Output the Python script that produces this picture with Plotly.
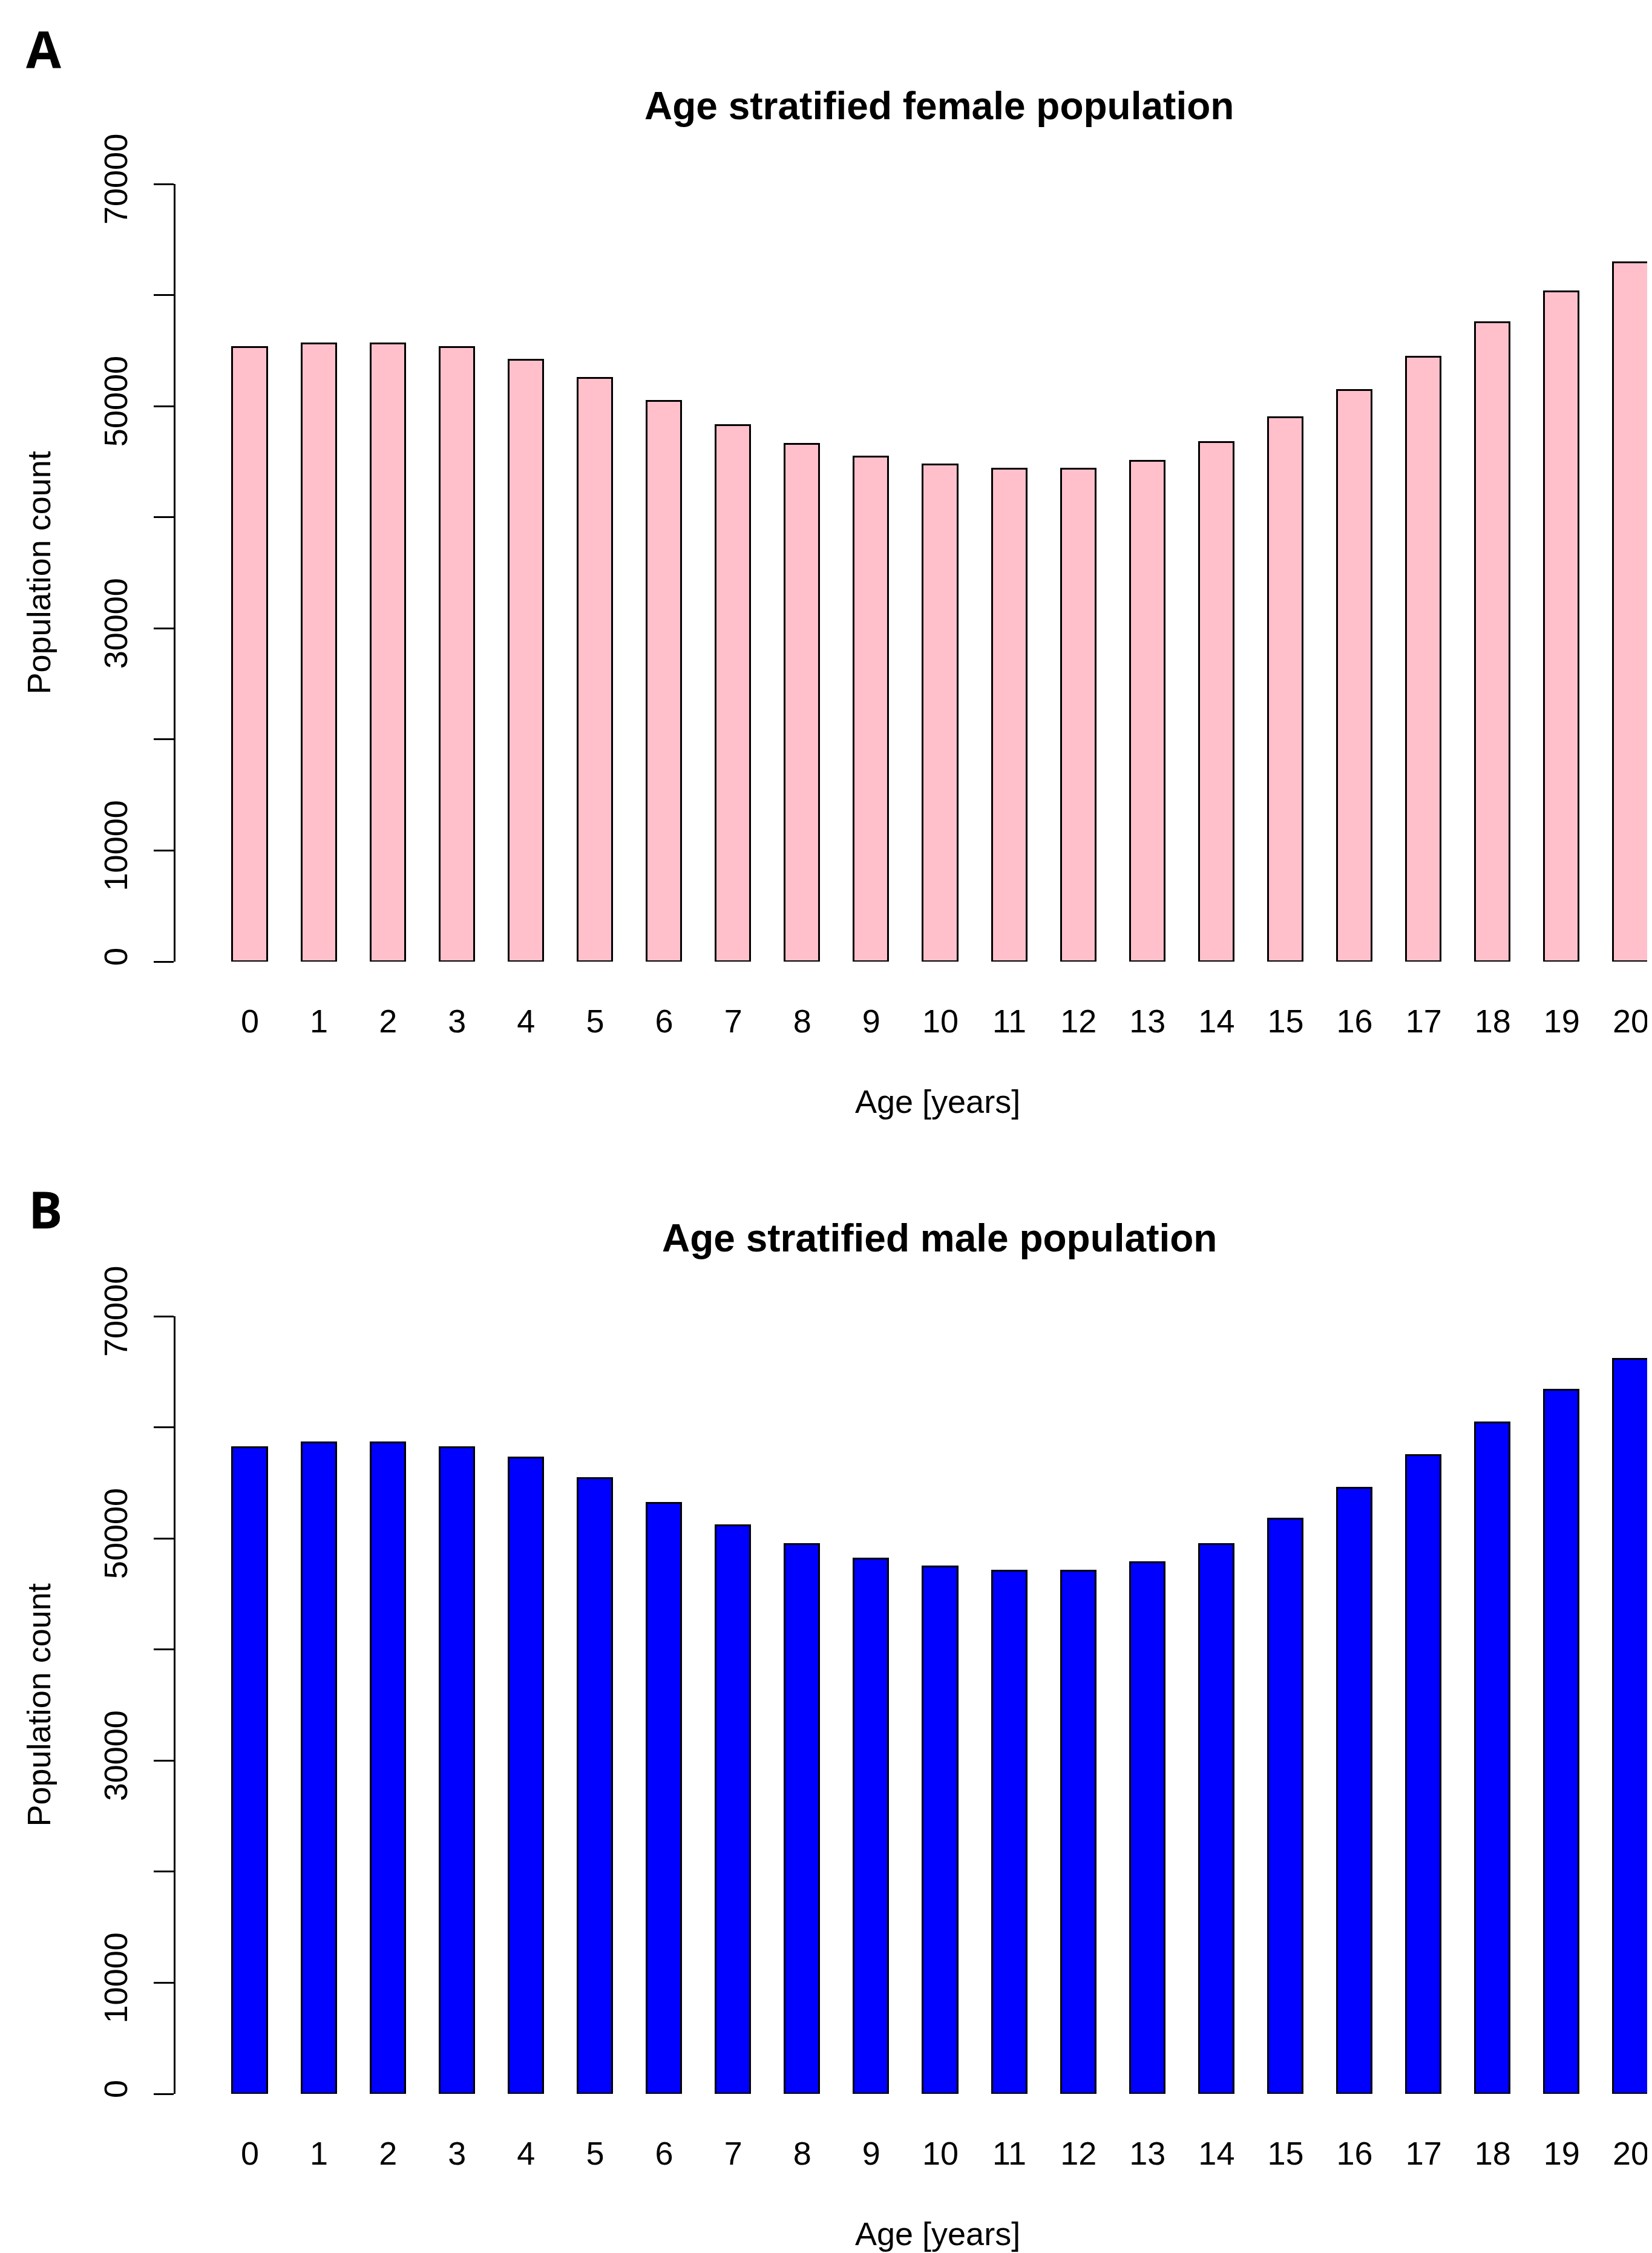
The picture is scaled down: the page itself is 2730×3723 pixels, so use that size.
import plotly.graph_objects as go

# ---- data ----
ages = list(range(21))
age_labels = [str(a) for a in ages]
female = [55300, 55600, 55600, 55300, 54150, 52500, 50450, 48250, 46600, 45450,
          44700, 44350, 44350, 45050, 46750, 49000, 51400, 54400, 57550, 60300, 62900]
male = [58200, 58600, 58600, 58200, 57250, 55400, 53150, 51150, 49450, 48150,
        47450, 47050, 47050, 47850, 49450, 51750, 54550, 57450, 60400, 63350, 66150]
y_tickvals = [0, 10000, 20000, 30000, 40000, 50000, 60000, 70000]
y_ticktext = ["0", "10000", "", "30000", "", "50000", "", "70000"]
titles = ["Age stratified female population", "Age stratified male population"]
panel_letters = ["A", "B"]
colors = ["#FFC0CB", "#0000FF"]

# page body has an 8px margin; figure is sized/positioned to compensate
OFF = 8
WIN_W, WIN_H = 2730, 3723
W, H = WIN_W - OFF, WIN_H - OFF
FONT = "Liberation Sans, Arial, sans-serif"


def px(x):
    return (x - OFF) / W


def py(y):
    return 1 - (y - OFF) / H


# panel geometry (window pixel positions)
panels = [
    dict(top=304, bottom=1589, title_y=175, xlab_y=1820, letter=(72, 80)),
    dict(top=2175, bottom=3460, title_y=2046, xlab_y=3691, letter=(75, 1997)),
]

fig = go.Figure()
series = [female, male]
for i, p in enumerate(panels):
    xa = "x" if i == 0 else "x2"
    ya = "y" if i == 0 else "y2"
    fig.add_trace(go.Bar(
        x=ages, y=series[i], width=0.5, xaxis=xa, yaxis=ya,
        marker=dict(color=colors[i], line=dict(color="black", width=3)),
        showlegend=False, hoverinfo="x+y",
    ))

axis_common_x = dict(
    range=[-1.078, 20.307], domain=[px(290), 1.0],
    tickmode="array", tickvals=ages, ticktext=age_labels,
    showline=False, showgrid=False, zeroline=False, ticks="",
    ticklabelstandoff=62, automargin=False,
    tickfont=dict(family=FONT, size=54, color="black"),
)
axis_common_y = dict(
    range=[0, 70000],
    tickmode="array", tickvals=y_tickvals, ticktext=y_ticktext,
    showline=True, linecolor="black", linewidth=3,
    ticks="outside", ticklen=33, tickwidth=3, tickcolor="black",
    tickangle=-90, ticklabelstandoff=22, automargin=False,
    showgrid=False, zeroline=False,
    tickfont=dict(family=FONT, size=54, color="black"),
)

layout = dict(
    width=W, height=H, margin=dict(l=0, r=0, t=0, b=0, pad=0, autoexpand=False),
    paper_bgcolor="white", plot_bgcolor="white",
    bargap=0, showlegend=False,
)
layout["xaxis"] = dict(axis_common_x, anchor="y")
layout["xaxis2"] = dict(axis_common_x, anchor="y2")
layout["yaxis"] = dict(axis_common_y, anchor="x",
                       domain=[py(panels[0]["bottom"]), py(panels[0]["top"])])
layout["yaxis2"] = dict(axis_common_y, anchor="x2",
                        domain=[py(panels[1]["bottom"]), py(panels[1]["top"])])

annotations = []
for i, p in enumerate(panels):
    mid_y = (p["top"] + p["bottom"]) / 2
    annotations.append(dict(
        text="<b>%s</b>" % titles[i], x=px(1552), y=py(p["title_y"]),
        xref="paper", yref="paper", xanchor="center", yanchor="middle",
        showarrow=False, font=dict(family=FONT, size=64, color="black")))
    annotations.append(dict(
        text="Age [years]", x=px(1549), y=py(p["xlab_y"]),
        xref="paper", yref="paper", xanchor="center", yanchor="middle",
        showarrow=False, font=dict(family=FONT, size=54, color="black")))
    annotations.append(dict(
        text="Population count", x=px(63), y=py(mid_y), textangle=-90,
        xref="paper", yref="paper", xanchor="center", yanchor="middle",
        showarrow=False, font=dict(family=FONT, size=54, color="black")))
    lx, ly = p["letter"]
    annotations.append(dict(
        text="<b>%s</b>" % panel_letters[i], x=px(lx), y=py(ly),
        xref="paper", yref="paper", xanchor="center", yanchor="middle",
        showarrow=False, font=dict(family="Open Sans, sans-serif", size=84, color="black")))
layout["annotations"] = annotations

fig.update_layout(**layout)
fig.write_html("out.html")
